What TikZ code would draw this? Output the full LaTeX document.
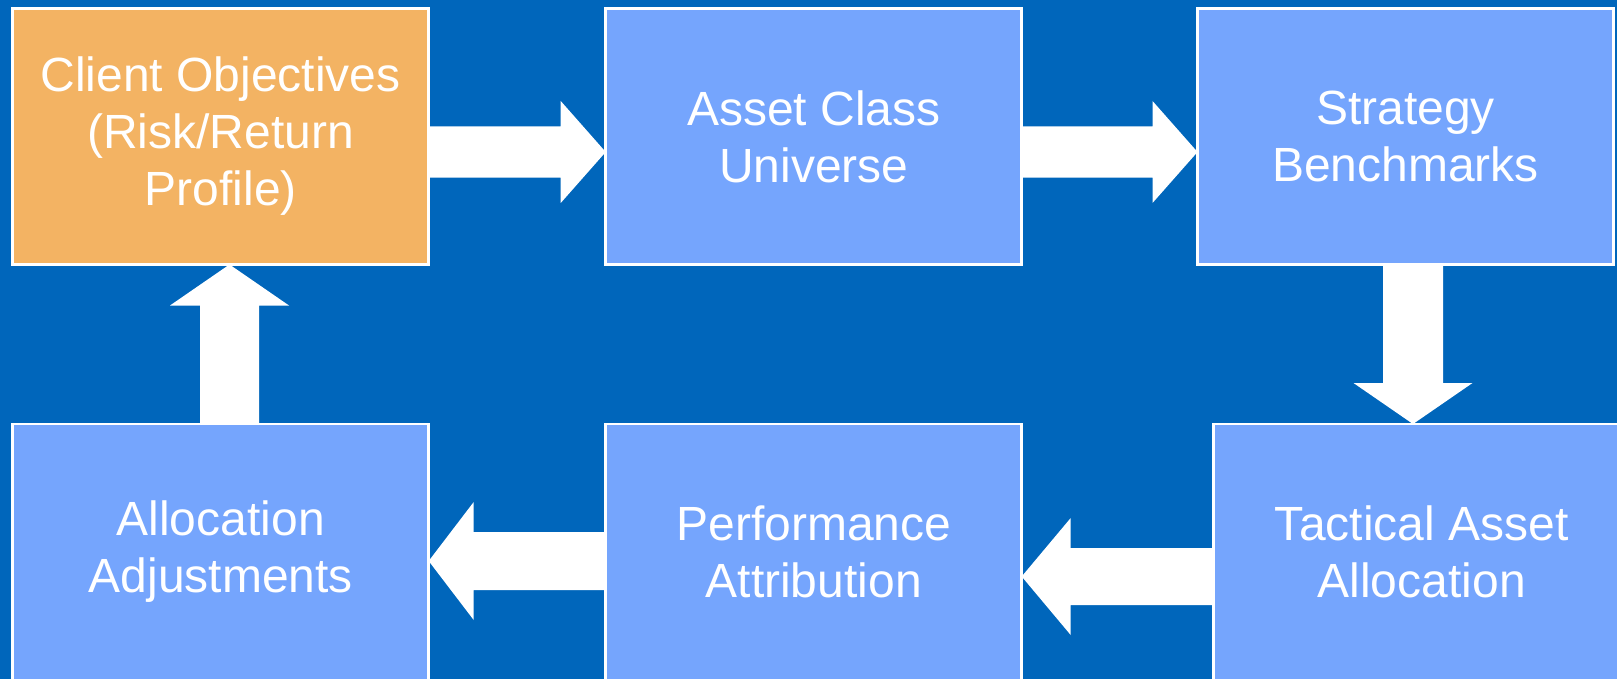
\documentclass[tikz,border=0pt]{standalone}
\usepackage{fontspec}
\setmainfont{Liberation Sans}
\usetikzlibrary{calc}
\definecolor{slidebg}{RGB}{0,102,187}
\definecolor{stageblue}{RGB}{117,165,253}
\definecolor{stageorange}{RGB}{243,179,99}
\tikzset{
  stage/.style={draw=white, line width=2.5pt, fill=stageblue, text=white,
    minimum width=416pt, minimum height=256pt, inner sep=0pt, outer sep=0pt,
    align=center, font=\fontsize{48}{57}\selectfont},
  flow/.style={fill=white}
}
% fat arrow from #1 to #2: half shaft #3, half head #4, head length #5 (all in pt)
\newcommand\fatarrow[5]{%
  \coordinate (hb) at ($(#2)!#5pt!(#1)$);
  \fill[flow] ($(#1)!#3pt!90:(#2)$) -- ($(hb)!#3pt!90:(#2)$) -- ($(hb)!#4pt!90:(#2)$)
    -- (#2) -- ($(hb)!#4pt!-90:(#2)$) -- ($(hb)!#3pt!-90:(#2)$) -- ($(#1)!#3pt!-90:(#2)$) -- cycle;
}
\begin{document}
\begin{tikzpicture}[x=1pt,y=-1pt]
\useasboundingbox (0,0) rectangle (1617,679);
\clip (0,0) rectangle (1617,679);
\fill[slidebg] (0,0) rectangle (1617,679);
% top row
\node[stage, fill=stageorange] (b1) at (220.7,136.5) {Client Objectives\\(Risk/Return\\Profile)};
\node[stage] (b2) at (813.7,136.5) {Asset Class\\Universe};
\node[stage] (b3) at (1405.5,136.5) {Strategy\\Benchmarks};
% bottom row
\node[stage] (b4) at (220.7,552) {Allocation\\Adjustments};
\node[stage] (b5) at (813.7,552) {Performance\\Attribution};
\node[stage] (b6) at (1421.7,552) {Tactical Asset\\Allocation};
% arrows round the loop
\coordinate (a12) at ($(b1.east)+(0,15.5)$);
\coordinate (a23) at ($(b2.east)+(0,15.5)$);
\coordinate (a36) at ($(b3.south)+(7.5,0)$);
\coordinate (a65) at ($(b6.west)+(0,24.5)$);
\coordinate (a54) at ($(b5.west)+(0,9)$);
\coordinate (a41) at ($(b4.north)+(8.8,0)$);
\coordinate (t12) at (a12 -| b2.west);
\coordinate (t23) at (a23 -| b3.west);
\coordinate (t36) at (a36 |- b6.north);
\coordinate (t65) at (a65 -| b5.east);
\coordinate (t54) at (a54 -| b4.east);
\coordinate (t41) at (a41 |- b1.south);
\fatarrow{a12}{t12}{25.7}{51}{45}
\fatarrow{a23}{t23}{25.7}{51}{45}
\fatarrow{a36}{t36}{30}{59.5}{41}
\fatarrow{a65}{t65}{28.5}{58.5}{49}
\fatarrow{a54}{t54}{29}{59}{45}
\fatarrow{a41}{t41}{29.5}{59.5}{41}
\end{tikzpicture}
\end{document}
